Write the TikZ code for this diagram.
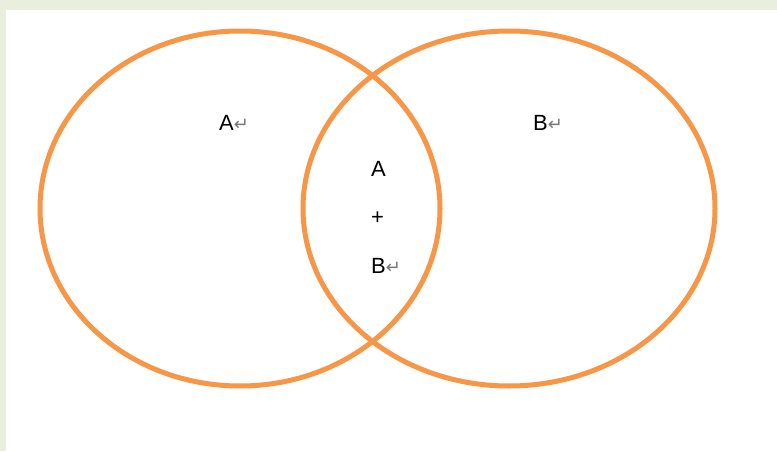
\documentclass[tikz,border=0pt]{standalone}
\usepackage{fontspec}
\setmainfont{Liberation Sans}
\newfontfamily\markfont{DejaVu Sans}
\usetikzlibrary{positioning}
\definecolor{VennOrange}{RGB}{247,150,70}
\definecolor{VennFrame}{RGB}{233,238,221}
\definecolor{VennMark}{RGB}{120,120,120}
\newcommand{\parmark}{{\markfont\fontsize{18}{18}\selectfont\color{VennMark}↵}}

\begin{document}
\begin{tikzpicture}[x=1pt, y=1pt,
    setline/.style={VennOrange, line width=5pt},
    setlabel/.style={anchor=base west, inner sep=0pt, font=\fontsize{22}{48.5}\selectfont}]
    \path[use as bounding box] (0,0) rectangle (777,451);
    % page frame
    \fill[VennFrame] (0,0) rectangle (777,451);
    \fill[white] (6,0) rectangle (777,441);
    % the two sets
    \draw[setline] (240,242.5) ellipse [x radius=200, y radius=177.5];
    \draw[setline] (509,242.5) ellipse [x radius=206, y radius=177.5];
    % labels
    \node[setlabel] (labelA) at (219,321) {A\parmark};
    \node[setlabel] (labelB) at (533,321) {B\parmark};
    \node[setlabel, align=left] (labelAB) at (371,178) {A\\+\\B\parmark};
\end{tikzpicture}
\end{document}
